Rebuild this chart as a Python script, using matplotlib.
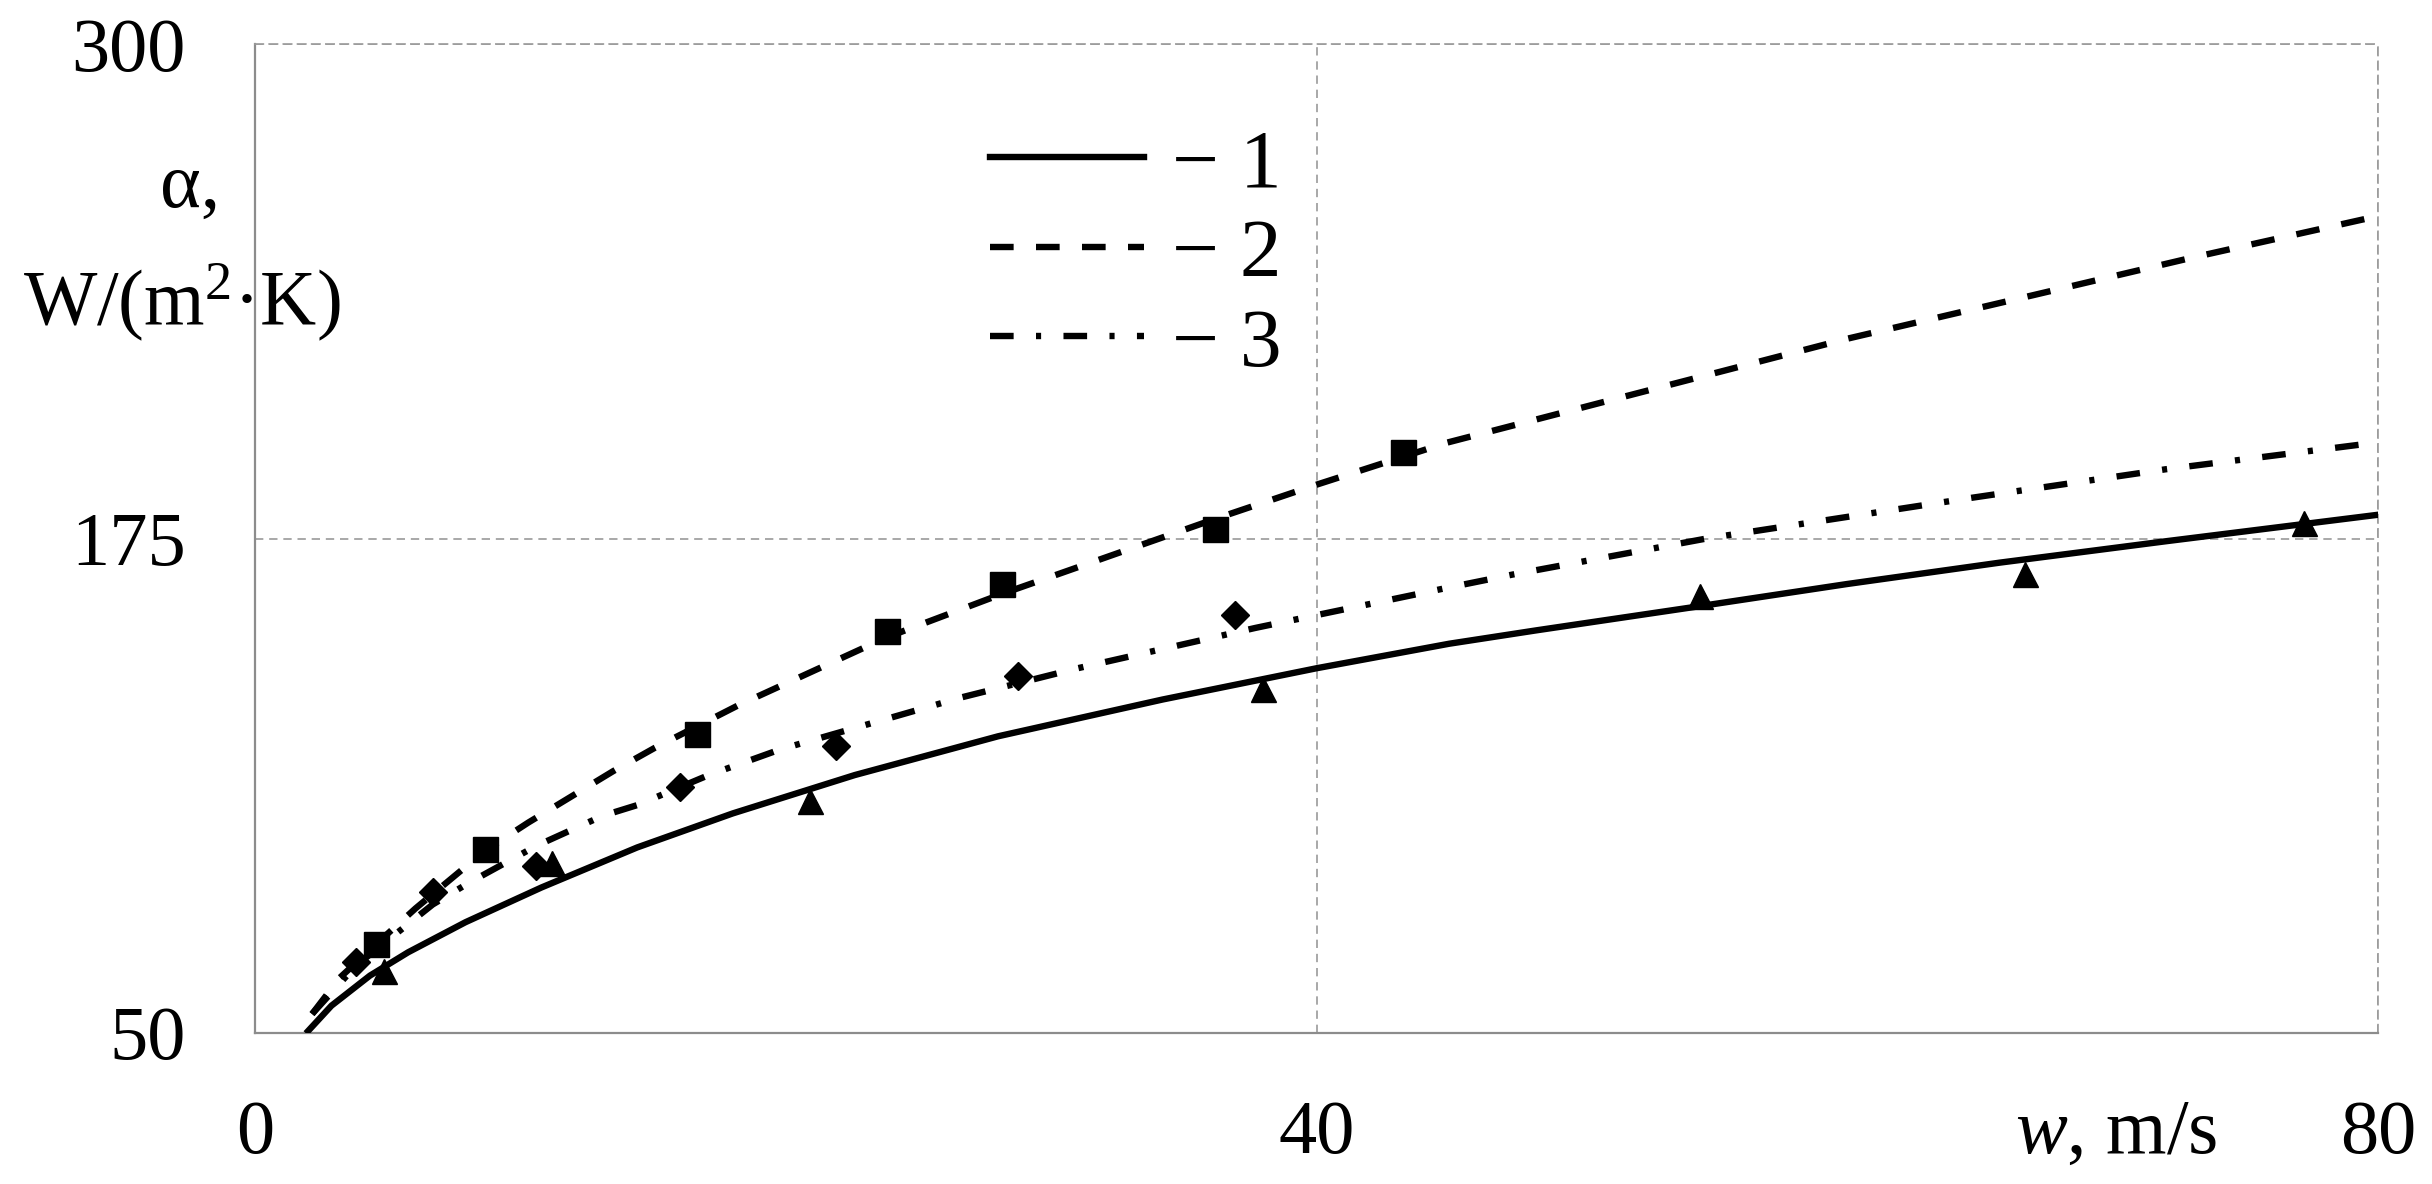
import matplotlib
matplotlib.use('Agg')
import matplotlib.pyplot as plt

plt.rcParams['font.family'] = ['Liberation Serif', 'DejaVu Serif']
plt.rcParams['mathtext.fontset'] = 'custom'
plt.rcParams['mathtext.rm'] = 'Liberation Serif'
plt.rcParams['mathtext.it'] = 'Liberation Serif:italic'

# ---- axis ticks ----
x_ticks = [0, 40, 80]
y_ticks = [50, 175, 300]

# ---- experimental points ----
w_tri = [4.86, 11.2, 20.9, 38.0, 54.45, 66.7, 77.2]
a_tri = [65.7, 92.9, 108.7, 136.9, 160.4, 166.0, 178.9]

w_sq = [4.57, 8.65, 16.65, 23.8, 28.15, 36.19, 43.26]
a_sq = [72.5, 96.5, 125.5, 151.6, 163.4, 177.4, 196.9]

w_dia = [3.82, 6.7, 10.6, 16.0, 21.9, 28.76, 36.94]
a_dia = [67.9, 85.7, 92.2, 112.3, 122.6, 140.2, 155.6]

# ---- fitted curves ----
w_c1 = [2.0, 2.88, 4.33, 5.77, 7.93, 10.8, 14.4, 18.0, 22.6, 28.0, 34.2, 40.0,
        45.0, 48.3, 54.45, 60.0, 65.75, 72.0, 80.0]
a_c1 = [50.5, 56.9, 64.5, 70.4, 78.0, 86.8, 96.9, 105.5, 115.2, 125.0, 134.3, 142.2,
        148.4, 151.8, 157.9, 163.5, 168.9, 174.3, 181.0]

w_c2 = [2.15, 3.2, 4.57, 6.05, 8.65, 10.3, 13.5, 15.07, 18.2, 23.8, 28.15, 36.2,
        40.0, 44.9, 53.8, 60.0, 67.0, 73.0, 80.0]
a_c2 = [54.8, 64.0, 72.5, 81.5, 96.0, 103.2, 116.2, 122.1, 132.8, 150.0, 161.0, 180.0,
        188.6, 199.2, 214.7, 225.5, 236.5, 246.0, 256.5]

w_c3 = [2.15, 3.8, 6.7, 8.07, 10.6, 13.1, 14.4, 17.1, 19.8, 21.1, 26.6, 31.0, 37.7,
        44.9, 47.4, 54.7, 64.7, 72.0, 80.0]
a_c3 = [54.8, 67.0, 82.5, 88.0, 97.3, 104.9, 107.6, 115.2, 121.7, 124.2, 134.8, 142.2,
        152.4, 162.5, 165.9, 175.0, 185.3, 192.5, 199.3]

legend_labels = ['\u2212 1', '\u2212 2', '\u2212 3']

W, H = 2432, 1184
fig = plt.figure(figsize=(W / 100, H / 100), dpi=100)
ax = fig.add_axes([255 / W, 1 - 1033 / H, 2123 / W, 989 / H])

LW = 4.6
dash2 = (0, (3.7, 3.5))
dash3 = (0, (3.7, 3.5, 0.8, 3.5))

l1, = ax.plot(w_c1, a_c1, color='black', lw=LW, linestyle='-', zorder=3,
              solid_joinstyle='round')
l2, = ax.plot(w_c2, a_c2, color='black', lw=LW, linestyle=dash2, zorder=3)
l3, = ax.plot(w_c3, a_c3, color='black', lw=LW, linestyle=dash3, zorder=3)

ax.plot(w_tri, a_tri, linestyle='none', marker='^', ms=18, color='black', zorder=4)
ax.plot(w_sq, a_sq, linestyle='none', marker='s', ms=18, color='black', zorder=4)
ax.plot(w_dia, a_dia, linestyle='none', marker='D', ms=14, color='black', zorder=4)

ax.set_xlim(x_ticks[0], x_ticks[-1])
ax.set_ylim(y_ticks[0], y_ticks[-1])
ax.set_xticks(x_ticks)
ax.set_yticks(y_ticks)
ax.set_xticklabels([str(v) for v in x_ticks])
ax.set_yticklabels([str(v) for v in y_ticks])
ax.tick_params(axis='both', length=0, labelsize=55)
ax.tick_params(axis='x', pad=48)
ax.tick_params(axis='y', pad=50)

grid_col = '#9a9a9a'
ax.grid(True, color=grid_col, linestyle=(0, (5, 3.5)), linewidth=1.2, zorder=1)
for s in ['left', 'bottom']:
    ax.spines[s].set_color('#8c8c8c')
    ax.spines[s].set_linewidth(1.6)
for s in ['top', 'right']:
    ax.spines[s].set_color(grid_col)
    ax.spines[s].set_linewidth(1.2)
    ax.spines[s].set_linestyle((0, (5, 3.5)))

leg = ax.legend([l1, l2, l3], legend_labels, loc='upper left',
                bbox_to_anchor=(990 / W, 1 - 128 / H), bbox_transform=fig.transFigure,
                frameon=False, fontsize=60, handlelength=1.85, handletextpad=0.33,
                labelspacing=0.16, borderpad=0, borderaxespad=0)

# axis titles
fig.text(190 / W, 1 - 207 / H, '\u03b1,', ha='center', va='baseline', fontsize=56)
fig.text(182 / W, 1 - 325 / H, 'W/(m$^{2}$\u00b7K)', ha='center', va='baseline', fontsize=56)
fig.text(2217 / W, 1 - 1153 / H, '$w$, m/s', ha='right', va='baseline', fontsize=56)

fig.savefig('out.png', dpi=100, facecolor='white')
